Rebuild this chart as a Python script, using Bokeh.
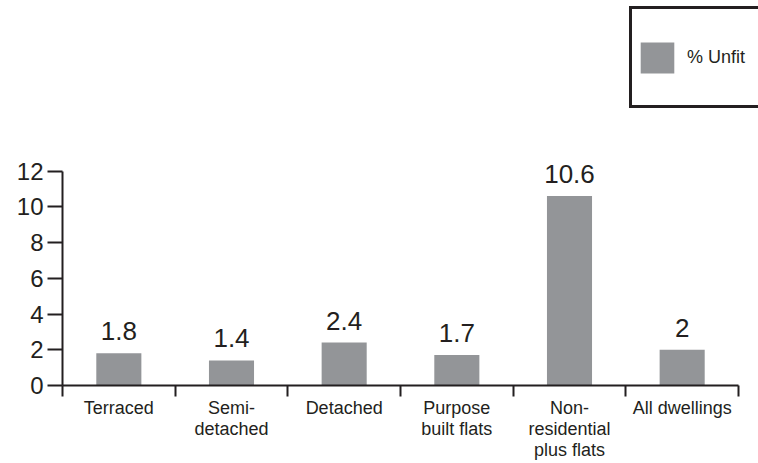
from bokeh.plotting import figure
from bokeh.models import (ColumnDataSource, LinearAxis, FixedTicker, Range1d,
                          Legend, LegendItem, LabelSet)
from bokeh.core.properties import value
from bokeh.embed import file_html
from bokeh.resources import INLINE

categories = ["Terraced", "Semi-\ndetached", "Detached", "Purpose\nbuilt flats",
              "Non-\nresidential\nplus flats", "All dwellings"]
pct_unfit = [1.8, 1.4, 2.4, 1.7, 10.6, 2.0]
value_labels = ["1.8", "1.4", "2.4", "1.7", "10.6", "2"]
y_ticks = [0, 2, 4, 6, 8, 10, 12]

BAR = "#939598"
INK = "#231f20"
FONT = "Liberation Sans"

n = len(categories)
centers = [i + 0.5 for i in range(n)]
bounds = list(range(n + 1))

src = ColumnDataSource(dict(x=centers, top=pct_unfit, lab=value_labels))

W, H = 758, 463
left, right, bottom = 62, 20, 77
frame_h = H - bottom
px_per_unit = (386 - 171) / 12.0
frame_w = W - left - right

p = figure(width=W, height=H, output_backend="svg", toolbar_location=None,
           x_range=Range1d(0, n * (frame_w + right) / frame_w),
           y_range=Range1d(0, frame_h / px_per_unit),
           x_axis_location=None, y_axis_location=None,
           min_border_left=left, min_border_right=0, min_border_top=0,
           min_border_bottom=bottom)
p.outline_line_color = None
p.grid.visible = False
p.background_fill_color = "white"
p.border_fill_color = "white"

r = p.vbar(x="x", top="top", width=0.4, source=src, fill_color=BAR, line_color=None)

labels = LabelSet(x="x", y="top", text="lab", source=src, text_align="center",
                  text_baseline="alphabetic", y_offset=13, text_font_size="26px",
                  text_color=INK, text_font=value(FONT))
p.add_layout(labels)

yax = LinearAxis(ticker=FixedTicker(ticks=y_ticks), bounds=(0, 12))
yax.axis_line_width = 2
yax.axis_line_color = INK
yax.major_tick_line_width = 2
yax.major_tick_line_color = INK
yax.major_tick_out = 15
yax.major_tick_in = 0
yax.minor_tick_line_color = None
yax.major_label_text_font_size = "24px"
yax.major_label_text_font = FONT
yax.major_label_text_color = INK
yax.major_label_standoff = 4
p.add_layout(yax, "left")

xax = LinearAxis(ticker=FixedTicker(ticks=centers, minor_ticks=bounds), bounds=(0, n))
xax.axis_line_width = 2
xax.axis_line_color = INK
xax.major_tick_line_color = None
xax.major_tick_out = 0
xax.major_tick_in = 0
xax.minor_tick_line_width = 2
xax.minor_tick_line_color = INK
xax.minor_tick_out = 11
xax.minor_tick_in = 0
xax.major_label_overrides = {c: lab for c, lab in zip(centers, categories)}
xax.major_label_text_font_size = "18px"
xax.major_label_text_line_height = 1.07
xax.major_label_text_font = FONT
xax.major_label_text_color = INK
xax.major_label_standoff = 1
p.add_layout(xax, "below")

legend = Legend(items=[LegendItem(label="% Unfit", renderers=[r])],
                location=(567, 277), orientation="vertical")
legend.border_line_color = INK
legend.border_line_alpha = 1.0
legend.border_line_width = 3
legend.padding = 4
legend.margin = 0
legend.glyph_width = 42
legend.glyph_height = 39
legend.label_height = 88
legend.label_width = 100
legend.label_standoff = 9
legend.label_text_font_size = "18px"
legend.label_text_font = FONT
legend.label_text_color = INK
legend.background_fill_alpha = 0
p.add_layout(legend)

open("out.html", "w").write(file_html(p, INLINE))
